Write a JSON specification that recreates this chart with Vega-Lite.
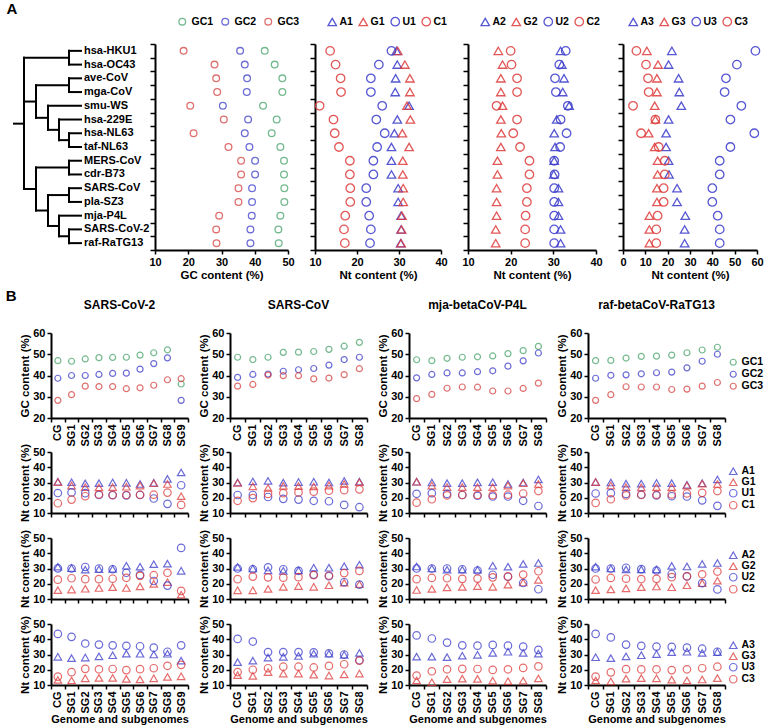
{
"$schema":"https://vega.github.io/schema/vega-lite/v6.json",
"background":"white",
"padding":{"left":5,"top":2,"right":0,"bottom":0},
"datasets":{
"tree":[
{"x":8,"x2":18,"y":5.3,"y2":5.3},
{"x":18,"x2":18,"y":0.5,"y2":10.06},
{"x":18,"x2":63,"y":0.5,"y2":0.5},
{"x":63,"x2":63,"y":0,"y2":1},
{"x":63,"x2":75,"y":0,"y2":0,"sp":"hsa-HKU1"},
{"x":63,"x2":75,"y":1,"y2":1,"sp":"hsa-OC43"},
{"x":18,"x2":30,"y":3.69,"y2":3.69},
{"x":30,"x2":30,"y":2.5,"y2":4.875},
{"x":30,"x2":63,"y":2.5,"y2":2.5},
{"x":63,"x2":63,"y":2,"y2":3},
{"x":63,"x2":75,"y":2,"y2":2,"sp":"ave-CoV"},
{"x":63,"x2":75,"y":3,"y2":3,"sp":"mga-CoV"},
{"x":30,"x2":42,"y":4.875,"y2":4.875},
{"x":42,"x2":42,"y":4,"y2":5.75},
{"x":42,"x2":75,"y":4,"y2":4,"sp":"smu-WS"},
{"x":42,"x2":53,"y":5.75,"y2":5.75},
{"x":53,"x2":53,"y":5,"y2":6.5},
{"x":53,"x2":75,"y":5,"y2":5,"sp":"hsa-229E"},
{"x":53,"x2":63,"y":6.5,"y2":6.5},
{"x":63,"x2":63,"y":6,"y2":7},
{"x":63,"x2":75,"y":6,"y2":6,"sp":"hsa-NL63"},
{"x":63,"x2":75,"y":7,"y2":7,"sp":"taf-NL63"},
{"x":18,"x2":30,"y":10.06,"y2":10.06},
{"x":30,"x2":30,"y":8.5,"y2":11.625},
{"x":30,"x2":63,"y":8.5,"y2":8.5},
{"x":63,"x2":63,"y":8,"y2":9},
{"x":63,"x2":75,"y":8,"y2":8,"sp":"MERS-CoV"},
{"x":63,"x2":75,"y":9,"y2":9,"sp":"cdr-B73"},
{"x":30,"x2":42,"y":11.625,"y2":11.625},
{"x":42,"x2":42,"y":10.5,"y2":12.75},
{"x":42,"x2":63,"y":10.5,"y2":10.5},
{"x":63,"x2":63,"y":10,"y2":11},
{"x":63,"x2":75,"y":10,"y2":10,"sp":"SARS-CoV"},
{"x":63,"x2":75,"y":11,"y2":11,"sp":"pla-SZ3"},
{"x":42,"x2":53,"y":12.75,"y2":12.75},
{"x":53,"x2":53,"y":12,"y2":13.5},
{"x":53,"x2":75,"y":12,"y2":12,"sp":"mja-P4L"},
{"x":53,"x2":63,"y":13.5,"y2":13.5},
{"x":63,"x2":63,"y":13,"y2":14},
{"x":63,"x2":75,"y":13,"y2":13,"sp":"SARS-CoV-2"},
{"x":63,"x2":75,"y":14,"y2":14,"sp":"raf-RaTG13"}
],
"A":[
{"sp":"hsa-HKU1","r":0,"GC1":43.0,"GC2":35.6,"GC3":18.6,"A1":29.4,"G1":29.7,"U1":28.2,"C1":13.6,"A2":31.7,"G2":17.1,"U2":32.9,"C2":20.0,"A3":21.9,"G3":10.7,"U3":59.3,"C3":6.0},
{"sp":"hsa-OC43","r":1,"GC1":46.0,"GC2":37.0,"GC3":27.9,"A1":29.6,"G1":31.4,"U1":25.2,"C1":14.9,"A2":32.0,"G2":18.1,"U2":31.4,"C2":20.2,"A3":20.4,"G3":15.7,"U3":51.0,"C3":10.3},
{"sp":"ave-CoV","r":2,"GC1":48.3,"GC2":37.7,"GC3":28.4,"A1":29.2,"G1":32.6,"U1":23.3,"C1":16.1,"A2":32.5,"G2":17.7,"U2":30.4,"C2":21.5,"A3":24.9,"G3":15.2,"U3":46.1,"C3":11.2},
{"sp":"mga-CoV","r":3,"GC1":48.3,"GC2":37.6,"GC3":28.7,"A1":29.1,"G1":32.6,"U1":23.3,"C1":16.2,"A2":32.2,"G2":17.7,"U2":30.6,"C2":21.5,"A3":25.2,"G3":15.2,"U3":45.5,"C3":11.5},
{"sp":"smu-WS","r":4,"GC1":42.5,"GC2":30.4,"GC3":20.6,"A1":32.4,"G1":31.9,"U1":26.0,"C1":11.1,"A2":33.7,"G2":18.1,"U2":33.4,"C2":16.7,"A3":26.1,"G3":14.2,"U3":53.0,"C3":4.5},
{"sp":"hsa-229E","r":5,"GC1":46.6,"GC2":38.0,"GC3":30.7,"A1":29.6,"G1":32.7,"U1":24.6,"C1":14.4,"A2":30.8,"G2":17.7,"U2":31.7,"C2":21.5,"A3":20.4,"G3":14.5,"U3":48.1,"C3":14.5},
{"sp":"hsa-NL63","r":6,"GC1":45.1,"GC2":37.0,"GC3":21.6,"A1":28.9,"G1":30.8,"U1":26.6,"C1":14.7,"A2":30.2,"G2":17.8,"U2":33.1,"C2":20.6,"A3":19.3,"G3":11.5,"U3":58.8,"C3":8.1},
{"sp":"taf-NL63","r":7,"GC1":47.7,"GC2":38.4,"GC3":32.1,"A1":28.2,"G1":32.4,"U1":24.8,"C1":15.7,"A2":30.4,"G2":17.7,"U2":31.6,"C2":22.2,"A3":19.3,"G3":14.2,"U3":48.1,"C3":16.0},
{"sp":"MERS-CoV","r":8,"GC1":48.8,"GC2":40.1,"GC3":35.9,"A1":28.2,"G1":30.9,"U1":23.9,"C1":18.3,"A2":30.2,"G2":16.9,"U2":30.2,"C2":24.4,"A3":20.4,"G3":15.5,"U3":43.3,"C3":18.7},
{"sp":"cdr-B73","r":9,"GC1":48.8,"GC2":40.1,"GC3":35.9,"A1":28.2,"G1":30.9,"U1":23.9,"C1":18.3,"A2":30.1,"G2":16.9,"U2":30.3,"C2":24.4,"A3":20.6,"G3":15.5,"U3":43.3,"C3":18.7},
{"sp":"SARS-CoV","r":10,"GC1":48.9,"GC2":39.2,"GC3":35.1,"A1":29.8,"G1":31.0,"U1":22.2,"C1":18.4,"A2":31.2,"G2":16.7,"U2":30.2,"C2":23.8,"A3":24.2,"G3":15.2,"U3":40.0,"C3":18.2},
{"sp":"pla-SZ3","r":11,"GC1":48.9,"GC2":39.2,"GC3":35.1,"A1":29.8,"G1":31.0,"U1":22.2,"C1":18.4,"A2":31.2,"G2":16.7,"U2":30.2,"C2":23.8,"A3":24.2,"G3":15.2,"U3":40.0,"C3":18.2},
{"sp":"mja-P4L","r":12,"GC1":47.7,"GC2":39.1,"GC3":29.3,"A1":30.5,"G1":30.7,"U1":22.9,"C1":17.2,"A2":31.2,"G2":16.7,"U2":30.2,"C2":23.5,"A3":27.9,"G3":11.8,"U3":42.4,"C3":15.5},
{"sp":"SARS-CoV-2","r":13,"GC1":47.1,"GC2":38.7,"GC3":28.4,"A1":30.5,"G1":30.6,"U1":23.3,"C1":16.9,"A2":31.7,"G2":16.5,"U2":30.2,"C2":23.4,"A3":27.6,"G3":11.8,"U3":43.3,"C3":14.9},
{"sp":"raf-RaTG13","r":14,"GC1":47.2,"GC2":38.7,"GC3":28.5,"A1":30.4,"G1":30.5,"U1":23.1,"C1":17.1,"A2":31.7,"G2":16.5,"U2":30.2,"C2":23.4,"A3":27.6,"G3":11.8,"U3":43.3,"C3":14.9}
],
"B":[
{"v":"SARS-CoV-2","sg":"CG","GC1":47.0,"GC2":38.7,"GC3":28.3,"A1":30.5,"G1":30.3,"U1":23.1,"C1":16.4,"A2":31.2,"G2":15.8,"U2":30.1,"C2":22.7,"A3":28.5,"G3":13.3,"U3":43.5,"C3":15.5},
{"v":"SARS-CoV-2","sg":"SG1","GC1":46.7,"GC2":40.0,"GC3":31.0,"A1":30.2,"G1":28.0,"U1":23.5,"C1":18.8,"A2":30.3,"G2":16.2,"U2":30.0,"C2":23.6,"A3":27.6,"G3":13.0,"U3":41.6,"C3":18.4},
{"v":"SARS-CoV-2","sg":"SG2","GC1":47.8,"GC2":40.0,"GC3":35.0,"A1":29.4,"G1":27.0,"U1":23.0,"C1":21.0,"A2":29.2,"G2":16.7,"U2":31.0,"C2":23.0,"A3":28.0,"G3":14.4,"U3":37.2,"C3":20.6},
{"v":"SARS-CoV-2","sg":"SG3","GC1":48.4,"GC2":40.5,"GC3":34.8,"A1":29.6,"G1":26.8,"U1":21.8,"C1":22.2,"A2":29.5,"G2":17.2,"U2":30.0,"C2":23.0,"A3":28.8,"G3":14.6,"U3":36.5,"C3":20.3},
{"v":"SARS-CoV-2","sg":"SG4","GC1":48.5,"GC2":41.0,"GC3":34.8,"A1":30.0,"G1":27.0,"U1":21.7,"C1":21.8,"A2":29.7,"G2":17.8,"U2":29.5,"C2":23.3,"A3":29.5,"G3":14.6,"U3":36.0,"C3":20.5},
{"v":"SARS-CoV-2","sg":"SG5","GC1":48.6,"GC2":41.1,"GC3":33.8,"A1":29.8,"G1":27.2,"U1":21.6,"C1":21.8,"A2":31.8,"G2":17.2,"U2":27.2,"C2":23.9,"A3":30.6,"G3":14.0,"U3":35.7,"C3":19.8},
{"v":"SARS-CoV-2","sg":"SG6","GC1":49.6,"GC2":43.0,"GC3":34.2,"A1":29.0,"G1":28.0,"U1":21.8,"C1":22.0,"A2":31.2,"G2":18.3,"U2":25.8,"C2":25.2,"A3":30.5,"G3":13.7,"U3":35.4,"C3":20.4},
{"v":"SARS-CoV-2","sg":"SG7","GC1":50.7,"GC2":45.6,"GC3":35.4,"A1":29.8,"G1":29.5,"U1":19.5,"C1":22.0,"A2":32.8,"G2":19.9,"U2":21.8,"C2":25.6,"A3":30.0,"G3":14.4,"U3":34.5,"C3":21.0},
{"v":"SARS-CoV-2","sg":"SG8","GC1":52.1,"GC2":48.3,"GC3":38.0,"A1":32.4,"G1":29.0,"U1":16.0,"C1":23.4,"A2":33.2,"G2":21.0,"U2":18.8,"C2":27.2,"A3":30.5,"G3":15.3,"U3":31.8,"C3":22.6},
{"v":"SARS-CoV-2","sg":"SG9","GC1":36.0,"GC2":28.3,"GC3":38.5,"A1":36.6,"G1":21.0,"U1":28.2,"C1":15.3,"A2":28.5,"G2":12.8,"U2":43.5,"C2":15.3,"A3":26.0,"G3":15.7,"U3":36.0,"C3":23.2},
{"v":"SARS-CoV","sg":"CG","GC1":48.6,"GC2":39.1,"GC3":35.0,"A1":30.0,"G1":29.8,"U1":21.8,"C1":18.0,"A2":31.0,"G2":15.7,"U2":30.0,"C2":23.0,"A3":25.0,"G3":16.5,"U3":40.2,"C3":18.5},
{"v":"SARS-CoV","sg":"SG1","GC1":47.5,"GC2":40.5,"GC3":35.8,"A1":30.7,"G1":27.5,"U1":21.8,"C1":19.8,"A2":30.0,"G2":15.7,"U2":29.5,"C2":24.7,"A3":26.0,"G3":16.0,"U3":38.5,"C3":20.0},
{"v":"SARS-CoV","sg":"SG2","GC1":48.6,"GC2":40.7,"GC3":40.2,"A1":31.1,"G1":26.4,"U1":20.5,"C1":22.5,"A2":28.8,"G2":16.6,"U2":30.8,"C2":24.2,"A3":28.0,"G3":18.5,"U3":31.6,"C3":21.0},
{"v":"SARS-CoV","sg":"SG3","GC1":50.9,"GC2":42.0,"GC3":39.9,"A1":29.9,"G1":27.8,"U1":19.3,"C1":23.0,"A2":28.5,"G2":18.0,"U2":29.5,"C2":24.0,"A3":28.5,"G3":17.5,"U3":31.6,"C3":22.0},
{"v":"SARS-CoV","sg":"SG4","GC1":51.0,"GC2":42.7,"GC3":39.9,"A1":30.3,"G1":27.6,"U1":18.8,"C1":23.5,"A2":28.8,"G2":18.5,"U2":28.5,"C2":24.3,"A3":29.0,"G3":17.5,"U3":31.6,"C3":22.0},
{"v":"SARS-CoV","sg":"SG5","GC1":51.3,"GC2":43.3,"GC3":38.4,"A1":30.5,"G1":27.4,"U1":18.0,"C1":24.0,"A2":30.5,"G2":18.0,"U2":26.0,"C2":25.6,"A3":30.5,"G3":16.8,"U3":31.4,"C3":21.5},
{"v":"SARS-CoV","sg":"SG6","GC1":52.3,"GC2":44.9,"GC3":38.8,"A1":30.0,"G1":28.0,"U1":17.7,"C1":24.6,"A2":30.5,"G2":19.0,"U2":25.0,"C2":25.4,"A3":30.5,"G3":16.2,"U3":30.8,"C3":22.5},
{"v":"SARS-CoV","sg":"SG7","GC1":53.8,"GC2":47.5,"GC3":40.4,"A1":31.0,"G1":29.0,"U1":15.3,"C1":25.0,"A2":31.5,"G2":20.7,"U2":21.0,"C2":27.0,"A3":29.8,"G3":17.0,"U3":30.0,"C3":23.6},
{"v":"SARS-CoV","sg":"SG8","GC1":55.6,"GC2":48.6,"GC3":43.2,"A1":30.6,"G1":30.2,"U1":13.8,"C1":25.5,"A2":32.5,"G2":19.7,"U2":19.4,"C2":28.4,"A3":31.0,"G3":17.5,"U3":26.2,"C3":26.0},
{"v":"mja","sg":"CG","GC1":47.4,"GC2":38.9,"GC3":29.1,"A1":30.5,"G1":30.5,"U1":22.6,"C1":16.8,"A2":31.3,"G2":15.9,"U2":30.0,"C2":23.0,"A3":28.6,"G3":13.0,"U3":42.5,"C3":16.2},
{"v":"mja","sg":"SG1","GC1":47.0,"GC2":40.5,"GC3":31.1,"A1":30.0,"G1":28.0,"U1":23.0,"C1":19.0,"A2":30.0,"G2":16.6,"U2":30.0,"C2":23.8,"A3":28.6,"G3":11.8,"U3":40.5,"C3":19.0},
{"v":"mja","sg":"SG2","GC1":48.1,"GC2":41.2,"GC3":34.0,"A1":29.6,"G1":27.0,"U1":22.5,"C1":21.5,"A2":29.2,"G2":17.6,"U2":30.0,"C2":23.6,"A3":28.3,"G3":13.8,"U3":37.8,"C3":20.3},
{"v":"mja","sg":"SG3","GC1":48.6,"GC2":41.2,"GC3":34.6,"A1":29.6,"G1":27.0,"U1":21.8,"C1":21.8,"A2":29.2,"G2":17.9,"U2":29.5,"C2":23.2,"A3":29.2,"G3":14.2,"U3":36.0,"C3":20.6},
{"v":"mja","sg":"SG4","GC1":48.8,"GC2":41.8,"GC3":34.5,"A1":30.1,"G1":26.9,"U1":21.3,"C1":21.8,"A2":29.2,"G2":18.5,"U2":28.7,"C2":23.4,"A3":29.8,"G3":14.0,"U3":35.8,"C3":20.5},
{"v":"mja","sg":"SG5","GC1":49.2,"GC2":42.2,"GC3":32.7,"A1":30.2,"G1":27.0,"U1":20.8,"C1":21.7,"A2":31.8,"G2":18.0,"U2":25.9,"C2":24.2,"A3":31.0,"G3":12.9,"U3":36.3,"C3":19.9},
{"v":"mja","sg":"SG6","GC1":50.3,"GC2":44.4,"GC3":32.7,"A1":29.0,"G1":28.0,"U1":20.8,"C1":22.0,"A2":31.2,"G2":19.4,"U2":24.6,"C2":24.8,"A3":31.8,"G3":12.5,"U3":35.8,"C3":20.3},
{"v":"mja","sg":"SG7","GC1":51.7,"GC2":46.9,"GC3":33.9,"A1":30.0,"G1":29.5,"U1":18.0,"C1":22.8,"A2":33.0,"G2":20.8,"U2":20.5,"C2":26.0,"A3":31.0,"G3":12.8,"U3":35.2,"C3":21.2},
{"v":"mja","sg":"SG8","GC1":53.7,"GC2":50.6,"GC3":36.4,"A1":32.0,"G1":29.0,"U1":14.6,"C1":24.4,"A2":33.6,"G2":22.5,"U2":16.4,"C2":28.2,"A3":30.6,"G3":14.3,"U3":33.0,"C3":22.2},
{"v":"raf","sg":"CG","GC1":47.0,"GC2":38.7,"GC3":28.3,"A1":30.3,"G1":30.3,"U1":22.8,"C1":16.6,"A2":31.2,"G2":15.8,"U2":30.0,"C2":22.8,"A3":28.2,"G3":13.0,"U3":43.5,"C3":15.5},
{"v":"raf","sg":"SG1","GC1":47.1,"GC2":40.1,"GC3":31.0,"A1":30.0,"G1":28.0,"U1":23.0,"C1":19.0,"A2":30.0,"G2":16.3,"U2":30.0,"C2":23.8,"A3":27.6,"G3":12.3,"U3":41.2,"C3":18.3},
{"v":"raf","sg":"SG2","GC1":48.2,"GC2":40.3,"GC3":34.7,"A1":29.3,"G1":27.0,"U1":22.5,"C1":21.5,"A2":29.4,"G2":17.0,"U2":30.5,"C2":23.3,"A3":28.8,"G3":14.2,"U3":36.5,"C3":20.4},
{"v":"raf","sg":"SG3","GC1":49.0,"GC2":40.8,"GC3":34.6,"A1":29.3,"G1":26.8,"U1":22.0,"C1":21.8,"A2":29.4,"G2":17.8,"U2":29.6,"C2":23.1,"A3":29.5,"G3":14.5,"U3":35.7,"C3":20.2},
{"v":"raf","sg":"SG4","GC1":49.1,"GC2":41.3,"GC3":34.6,"A1":29.7,"G1":26.9,"U1":21.5,"C1":22.0,"A2":29.4,"G2":18.2,"U2":28.7,"C2":23.2,"A3":30.3,"G3":14.4,"U3":35.2,"C3":20.3},
{"v":"raf","sg":"SG5","GC1":49.6,"GC2":41.6,"GC3":33.4,"A1":29.6,"G1":27.0,"U1":21.0,"C1":22.2,"A2":31.7,"G2":17.7,"U2":26.4,"C2":24.3,"A3":31.5,"G3":13.5,"U3":35.0,"C3":19.8},
{"v":"raf","sg":"SG6","GC1":50.7,"GC2":43.6,"GC3":33.6,"A1":28.5,"G1":28.0,"U1":20.8,"C1":22.8,"A2":31.3,"G2":19.0,"U2":24.8,"C2":24.9,"A3":31.8,"G3":13.0,"U3":34.5,"C3":20.3},
{"v":"raf","sg":"SG7","GC1":52.0,"GC2":46.7,"GC3":35.0,"A1":29.5,"G1":29.3,"U1":18.3,"C1":23.2,"A2":33.0,"G2":20.4,"U2":20.4,"C2":26.2,"A3":31.0,"G3":13.6,"U3":33.8,"C3":21.0},
{"v":"raf","sg":"SG8","GC1":53.3,"GC2":50.0,"GC3":36.7,"A1":32.0,"G1":29.0,"U1":14.7,"C1":24.4,"A2":33.6,"G2":22.0,"U2":16.3,"C2":28.0,"A3":31.6,"G3":14.5,"U3":31.8,"C3":22.0}
]
},
"columns":1,
"align":"none",
"spacing":8,
"resolve":{"scale":{"color":"independent","shape":"independent","size":"independent"},"legend":{"color":"independent","shape":"independent","size":"independent"}},
"concat":[
{
"title":{"text":"A","anchor":"start","fontSize":15,"offset":-16,"baseline":"bottom","dx":-6},
"bounds":"flush",
"spacing":27,
"resolve":{"scale":{"color":"independent","shape":"independent","size":"independent"},"legend":{"color":"independent","shape":"independent","size":"independent"}},
"hconcat":[
{"width":77,"height":206,
"layer":[
{"data":{"name":"tree"},"mark":{"type":"rule","strokeWidth":2,"color":"black","strokeCap":"square"},
"encoding":{"x":{"field":"x","type":"quantitative","scale":{"domain":[45,122],"nice":false,"zero":false},"axis":null},"x2":{"field":"x2"},"y":{"field":"y","type":"quantitative","scale":{"domain":[-0.5,14.5],"reverse":true,"nice":false,"zero":false},"axis":null},"y2":{"field":"y2"}}},
{"data":{"name":"tree"},"transform":[{"filter":"isValid(datum.sp)"}],"mark":{"type":"text","align":"left","baseline":"middle","fontWeight":"bold","fontSize":11,"dx":3,"color":"black"},
"encoding":{"x":{"field":"x2","type":"quantitative"},"y":{"field":"y","type":"quantitative"},"text":{"field":"sp"}}}
]},
{"width":133,"height":206,"data":{"name":"A"},
"transform":[{"fold":["GC1","GC2","GC3"],"as":["k","val"]}],
"mark":{"type":"point","filled":false,"strokeWidth":1.3,"size":45},
"encoding":{
"x":{"field":"val","type":"quantitative","scale":{"domain":[10,50],"nice":false,"zero":false},"axis":{"values":[10,20,30,40,50],"title":"GC content (%)"}},
"y":{"field":"r","type":"quantitative","scale":{"domain":[-0.5,14.5],"reverse":true,"nice":false,"zero":false},"axis":{"values":[-0.5,0.5,1.5,2.5,3.5,4.5,5.5,6.5,7.5,8.5,9.5,10.5,11.5,12.5,13.5,14.5],"labels":false,"title":null,"tickSize":5}},
"color":{"field":"k","type":"nominal","scale":{"domain":["GC1","GC2","GC3"],"range":["#3b9c60","#2f2fc4","#d23434"]},"legend":{"title":null,"orient":"none","legendX":22,"legendY":-28,"direction":"vertical","columns":3,"labelOffset":4,"columnPadding":5,"symbolSize":45,"symbolStrokeWidth":1.3,"padding":0}}}},
{"width":126,"height":206,"data":{"name":"A"},
"transform":[{"fold":["A1","G1","U1","C1"],"as":["k","val"]}],
"mark":{"type":"point","filled":false,"strokeWidth":1.3,"opacity":0.85},
"encoding":{
"x":{"field":"val","type":"quantitative","scale":{"domain":[10,40],"nice":false,"zero":false},"axis":{"values":[10,20,30,40],"title":"Nt content (%)"}},
"y":{"field":"r","type":"quantitative","scale":{"domain":[-0.5,14.5],"reverse":true,"nice":false,"zero":false},"axis":{"values":[-0.5,0.5,1.5,2.5,3.5,4.5,5.5,6.5,7.5,8.5,9.5,10.5,11.5,12.5,13.5,14.5],"labels":false,"title":null,"tickSize":5}},
"color":{"field":"k","type":"nominal","scale":{"domain":["A1","G1","U1","C1"],"range":["#3a3acb","#de3b3b","#3a3acb","#de3b3b"]},"legend":{"title":null,"orient":"none","legendX":12,"legendY":-28,"direction":"vertical","columns":4,"labelOffset":2,"columnPadding":3,"symbolStrokeWidth":1.3,"padding":0}},
"shape":{"field":"k","type":"nominal","scale":{"domain":["A1","G1","U1","C1"],"range":["triangle-up","triangle-up","circle","circle"]},"legend":{"title":null,"orient":"none","legendX":12,"legendY":-28,"direction":"vertical","columns":4,"labelOffset":2,"columnPadding":3,"symbolStrokeWidth":1.3,"padding":0}},
"size":{"field":"k","type":"nominal","scale":{"domain":["A1","G1","U1","C1"],"range":[72,72,45,45]},"legend":{"title":null,"orient":"none","legendX":12,"legendY":-28,"direction":"vertical","columns":4,"labelOffset":2,"columnPadding":3,"symbolStrokeWidth":1.3,"padding":0}}}},
{"width":128,"height":206,"data":{"name":"A"},
"transform":[{"fold":["A2","G2","U2","C2"],"as":["k","val"]}],
"mark":{"type":"point","filled":false,"strokeWidth":1.3,"opacity":0.85},
"encoding":{
"x":{"field":"val","type":"quantitative","scale":{"domain":[10,40],"nice":false,"zero":false},"axis":{"values":[10,20,30,40],"title":"Nt content (%)"}},
"y":{"field":"r","type":"quantitative","scale":{"domain":[-0.5,14.5],"reverse":true,"nice":false,"zero":false},"axis":{"values":[-0.5,0.5,1.5,2.5,3.5,4.5,5.5,6.5,7.5,8.5,9.5,10.5,11.5,12.5,13.5,14.5],"labels":false,"title":null,"tickSize":5}},
"color":{"field":"k","type":"nominal","scale":{"domain":["A2","G2","U2","C2"],"range":["#3a3acb","#de3b3b","#3a3acb","#de3b3b"]},"legend":{"title":null,"orient":"none","legendX":12,"legendY":-28,"direction":"vertical","columns":4,"labelOffset":2,"columnPadding":3,"symbolStrokeWidth":1.3,"padding":0}},
"shape":{"field":"k","type":"nominal","scale":{"domain":["A2","G2","U2","C2"],"range":["triangle-up","triangle-up","circle","circle"]},"legend":{"title":null,"orient":"none","legendX":12,"legendY":-28,"direction":"vertical","columns":4,"labelOffset":2,"columnPadding":3,"symbolStrokeWidth":1.3,"padding":0}},
"size":{"field":"k","type":"nominal","scale":{"domain":["A2","G2","U2","C2"],"range":[72,72,45,45]},"legend":{"title":null,"orient":"none","legendX":12,"legendY":-28,"direction":"vertical","columns":4,"labelOffset":2,"columnPadding":3,"symbolStrokeWidth":1.3,"padding":0}}}},
{"width":134,"height":206,"data":{"name":"A"},
"transform":[{"fold":["A3","G3","U3","C3"],"as":["k","val"]}],
"mark":{"type":"point","filled":false,"strokeWidth":1.3,"opacity":0.85},
"encoding":{
"x":{"field":"val","type":"quantitative","scale":{"domain":[0,60],"nice":false,"zero":false},"axis":{"values":[0,10,20,30,40,50,60],"title":"Nt content (%)"}},
"y":{"field":"r","type":"quantitative","scale":{"domain":[-0.5,14.5],"reverse":true,"nice":false,"zero":false},"axis":{"values":[-0.5,0.5,1.5,2.5,3.5,4.5,5.5,6.5,7.5,8.5,9.5,10.5,11.5,12.5,13.5,14.5],"labels":false,"title":null,"tickSize":5}},
"color":{"field":"k","type":"nominal","scale":{"domain":["A3","G3","U3","C3"],"range":["#3a3acb","#de3b3b","#3a3acb","#de3b3b"]},"legend":{"title":null,"orient":"none","legendX":5,"legendY":-28,"direction":"vertical","columns":4,"labelOffset":2,"columnPadding":3,"symbolStrokeWidth":1.3,"padding":0}},
"shape":{"field":"k","type":"nominal","scale":{"domain":["A3","G3","U3","C3"],"range":["triangle-up","triangle-up","circle","circle"]},"legend":{"title":null,"orient":"none","legendX":5,"legendY":-28,"direction":"vertical","columns":4,"labelOffset":2,"columnPadding":3,"symbolStrokeWidth":1.3,"padding":0}},
"size":{"field":"k","type":"nominal","scale":{"domain":["A3","G3","U3","C3"],"range":[72,72,45,45]},"legend":{"title":null,"orient":"none","legendX":5,"legendY":-28,"direction":"vertical","columns":4,"labelOffset":2,"columnPadding":3,"symbolStrokeWidth":1.3,"padding":0}}}}
]
},
{
"title":{"text":"B","anchor":"start","fontSize":15,"offset":-20,"baseline":"bottom","dx":-14},
"columns":4,
"bounds":"flush",
"spacing":{"row":25,"column":42},
"resolve":{"scale":{"color":"independent","shape":"independent","size":"independent"},"legend":{"color":"independent","shape":"independent","size":"independent"}},
"concat":[
{"width":137,"height":94,"title":{"text":"SARS-CoV-2","offset":15,"dy":12,"baseline":"bottom","fontSize":12,"frame":"group","anchor":"middle"},"data":{"name":"B"},
"transform":[{"filter":"datum.v == 'SARS-CoV-2'"},{"fold":["GC1","GC2","GC3"],"as":["k","val"]}],
"mark":{"type":"point","filled":false,"strokeWidth":1.2,"size":36},
"encoding":{"x":{"field":"sg","type":"nominal","sort":null,"scale":{"type":"band","paddingInner":0,"paddingOuter":0},"axis":{"title":null,"labelAngle":270,"tickBand":"extent","offset":-9}},
"y":{"field":"val","type":"quantitative","scale":{"domain":[20,60],"range":[85,0],"nice":false,"zero":false},"axis":{"values":[20,30,40,50,60],"title":"GC content (%)"}},
"color":{"field":"k","type":"nominal","scale":{"domain":["GC1","GC2","GC3"],"range":["#3b9c60","#2f2fc4","#d23434"]},"legend":null}}},
{"width":137,"height":94,"title":{"text":"SARS-CoV","offset":15,"dy":12,"baseline":"bottom","fontSize":12,"frame":"group","anchor":"middle"},"data":{"name":"B"},
"transform":[{"filter":"datum.v == 'SARS-CoV'"},{"fold":["GC1","GC2","GC3"],"as":["k","val"]}],
"mark":{"type":"point","filled":false,"strokeWidth":1.2,"size":36},
"encoding":{"x":{"field":"sg","type":"nominal","sort":null,"scale":{"type":"band","paddingInner":0,"paddingOuter":0},"axis":{"title":null,"labelAngle":270,"tickBand":"extent","offset":-9}},
"y":{"field":"val","type":"quantitative","scale":{"domain":[20,60],"range":[85,0],"nice":false,"zero":false},"axis":{"values":[20,30,40,50,60],"title":"GC content (%)"}},
"color":{"field":"k","type":"nominal","scale":{"domain":["GC1","GC2","GC3"],"range":["#3b9c60","#2f2fc4","#d23434"]},"legend":null}}},
{"width":137,"height":94,"title":{"text":"mja-betaCoV-P4L","offset":15,"dy":12,"baseline":"bottom","fontSize":12,"frame":"group","anchor":"middle"},"data":{"name":"B"},
"transform":[{"filter":"datum.v == 'mja'"},{"fold":["GC1","GC2","GC3"],"as":["k","val"]}],
"mark":{"type":"point","filled":false,"strokeWidth":1.2,"size":36},
"encoding":{"x":{"field":"sg","type":"nominal","sort":null,"scale":{"type":"band","paddingInner":0,"paddingOuter":0},"axis":{"title":null,"labelAngle":270,"tickBand":"extent","offset":-9}},
"y":{"field":"val","type":"quantitative","scale":{"domain":[20,60],"range":[85,0],"nice":false,"zero":false},"axis":{"values":[20,30,40,50,60],"title":"GC content (%)"}},
"color":{"field":"k","type":"nominal","scale":{"domain":["GC1","GC2","GC3"],"range":["#3b9c60","#2f2fc4","#d23434"]},"legend":null}}},
{"width":137,"height":94,"title":{"text":"raf-betaCoV-RaTG13","offset":15,"dy":12,"baseline":"bottom","fontSize":12,"frame":"group","anchor":"middle"},"data":{"name":"B"},
"transform":[{"filter":"datum.v == 'raf'"},{"fold":["GC1","GC2","GC3"],"as":["k","val"]}],
"mark":{"type":"point","filled":false,"strokeWidth":1.2,"size":36},
"encoding":{"x":{"field":"sg","type":"nominal","sort":null,"scale":{"type":"band","paddingInner":0,"paddingOuter":0},"axis":{"title":null,"labelAngle":270,"tickBand":"extent","offset":-9}},
"y":{"field":"val","type":"quantitative","scale":{"domain":[20,60],"range":[85,0],"nice":false,"zero":false},"axis":{"values":[20,30,40,50,60],"title":"GC content (%)"}},
"color":{"field":"k","type":"nominal","scale":{"domain":["GC1","GC2","GC3"],"range":["#3b9c60","#2f2fc4","#d23434"]},"legend":{"title":null,"orient":"none","legendX":140,"legendY":24,"labelOffset":3,"rowPadding":0,"symbolSize":36,"symbolStrokeWidth":1.2,"padding":0}}}},

{"width":137,"height":61,"data":{"name":"B"},
"transform":[{"filter":"datum.v == 'SARS-CoV-2'"},{"fold":["A1","G1","U1","C1"],"as":["k","val"]}],
"mark":{"type":"point","filled":false,"strokeWidth":1.2,"opacity":0.75},
"encoding":{"x":{"field":"sg","type":"nominal","sort":null,"scale":{"type":"band","paddingInner":0,"paddingOuter":0},"axis":{"title":null,"labels":false,"tickBand":"extent"}},
"y":{"field":"val","type":"quantitative","scale":{"domain":[10,50],"nice":false,"zero":false},"axis":{"values":[10,20,30,40,50],"title":"Nt content (%)"}},
"color":{"field":"k","type":"nominal","scale":{"domain":["A1","G1","U1","C1"],"range":["#3a3acb","#de3b3b","#3a3acb","#de3b3b"]},"legend":null},
"shape":{"field":"k","type":"nominal","scale":{"domain":["A1","G1","U1","C1"],"range":["triangle-up","triangle-up","circle","circle"]},"legend":null},
"size":{"field":"k","type":"nominal","scale":{"domain":["A1","G1","U1","C1"],"range":[56,56,36,36]},"legend":null}}},
{"width":137,"height":61,"data":{"name":"B"},
"transform":[{"filter":"datum.v == 'SARS-CoV'"},{"fold":["A1","G1","U1","C1"],"as":["k","val"]}],
"mark":{"type":"point","filled":false,"strokeWidth":1.2,"opacity":0.75},
"encoding":{"x":{"field":"sg","type":"nominal","sort":null,"scale":{"type":"band","paddingInner":0,"paddingOuter":0},"axis":{"title":null,"labels":false,"tickBand":"extent"}},
"y":{"field":"val","type":"quantitative","scale":{"domain":[10,50],"nice":false,"zero":false},"axis":{"values":[10,20,30,40,50],"title":"Nt content (%)"}},
"color":{"field":"k","type":"nominal","scale":{"domain":["A1","G1","U1","C1"],"range":["#3a3acb","#de3b3b","#3a3acb","#de3b3b"]},"legend":null},
"shape":{"field":"k","type":"nominal","scale":{"domain":["A1","G1","U1","C1"],"range":["triangle-up","triangle-up","circle","circle"]},"legend":null},
"size":{"field":"k","type":"nominal","scale":{"domain":["A1","G1","U1","C1"],"range":[56,56,36,36]},"legend":null}}},
{"width":137,"height":61,"data":{"name":"B"},
"transform":[{"filter":"datum.v == 'mja'"},{"fold":["A1","G1","U1","C1"],"as":["k","val"]}],
"mark":{"type":"point","filled":false,"strokeWidth":1.2,"opacity":0.75},
"encoding":{"x":{"field":"sg","type":"nominal","sort":null,"scale":{"type":"band","paddingInner":0,"paddingOuter":0},"axis":{"title":null,"labels":false,"tickBand":"extent"}},
"y":{"field":"val","type":"quantitative","scale":{"domain":[10,50],"nice":false,"zero":false},"axis":{"values":[10,20,30,40,50],"title":"Nt content (%)"}},
"color":{"field":"k","type":"nominal","scale":{"domain":["A1","G1","U1","C1"],"range":["#3a3acb","#de3b3b","#3a3acb","#de3b3b"]},"legend":null},
"shape":{"field":"k","type":"nominal","scale":{"domain":["A1","G1","U1","C1"],"range":["triangle-up","triangle-up","circle","circle"]},"legend":null},
"size":{"field":"k","type":"nominal","scale":{"domain":["A1","G1","U1","C1"],"range":[56,56,36,36]},"legend":null}}},
{"width":137,"height":61,"data":{"name":"B"},
"transform":[{"filter":"datum.v == 'raf'"},{"fold":["A1","G1","U1","C1"],"as":["k","val"]}],
"mark":{"type":"point","filled":false,"strokeWidth":1.2,"opacity":0.75},
"encoding":{"x":{"field":"sg","type":"nominal","sort":null,"scale":{"type":"band","paddingInner":0,"paddingOuter":0},"axis":{"title":null,"labels":false,"tickBand":"extent"}},
"y":{"field":"val","type":"quantitative","scale":{"domain":[10,50],"nice":false,"zero":false},"axis":{"values":[10,20,30,40,50],"title":"Nt content (%)"}},
"color":{"field":"k","type":"nominal","scale":{"domain":["A1","G1","U1","C1"],"range":["#3a3acb","#de3b3b","#3a3acb","#de3b3b"]},"legend":{"title":null,"orient":"none","legendX":140,"legendY":14,"labelOffset":3,"rowPadding":-1.5,"symbolStrokeWidth":1.2,"padding":0}},
"shape":{"field":"k","type":"nominal","scale":{"domain":["A1","G1","U1","C1"],"range":["triangle-up","triangle-up","circle","circle"]},"legend":{"title":null,"orient":"none","legendX":140,"legendY":14,"labelOffset":3,"rowPadding":-1.5,"symbolStrokeWidth":1.2,"padding":0}},
"size":{"field":"k","type":"nominal","scale":{"domain":["A1","G1","U1","C1"],"range":[56,56,36,36]},"legend":{"title":null,"orient":"none","legendX":140,"legendY":14,"labelOffset":3,"rowPadding":-1.5,"symbolStrokeWidth":1.2,"padding":0}}}},

{"width":137,"height":61,"data":{"name":"B"},
"transform":[{"filter":"datum.v == 'SARS-CoV-2'"},{"fold":["A2","G2","U2","C2"],"as":["k","val"]}],
"mark":{"type":"point","filled":false,"strokeWidth":1.2,"opacity":0.75},
"encoding":{"x":{"field":"sg","type":"nominal","sort":null,"scale":{"type":"band","paddingInner":0,"paddingOuter":0},"axis":{"title":null,"labels":false,"tickBand":"extent"}},
"y":{"field":"val","type":"quantitative","scale":{"domain":[10,50],"nice":false,"zero":false},"axis":{"values":[10,20,30,40,50],"title":"Nt content (%)"}},
"color":{"field":"k","type":"nominal","scale":{"domain":["A2","G2","U2","C2"],"range":["#3a3acb","#de3b3b","#3a3acb","#de3b3b"]},"legend":null},
"shape":{"field":"k","type":"nominal","scale":{"domain":["A2","G2","U2","C2"],"range":["triangle-up","triangle-up","circle","circle"]},"legend":null},
"size":{"field":"k","type":"nominal","scale":{"domain":["A2","G2","U2","C2"],"range":[56,56,36,36]},"legend":null}}},
{"width":137,"height":61,"data":{"name":"B"},
"transform":[{"filter":"datum.v == 'SARS-CoV'"},{"fold":["A2","G2","U2","C2"],"as":["k","val"]}],
"mark":{"type":"point","filled":false,"strokeWidth":1.2,"opacity":0.75},
"encoding":{"x":{"field":"sg","type":"nominal","sort":null,"scale":{"type":"band","paddingInner":0,"paddingOuter":0},"axis":{"title":null,"labels":false,"tickBand":"extent"}},
"y":{"field":"val","type":"quantitative","scale":{"domain":[10,50],"nice":false,"zero":false},"axis":{"values":[10,20,30,40,50],"title":"Nt content (%)"}},
"color":{"field":"k","type":"nominal","scale":{"domain":["A2","G2","U2","C2"],"range":["#3a3acb","#de3b3b","#3a3acb","#de3b3b"]},"legend":null},
"shape":{"field":"k","type":"nominal","scale":{"domain":["A2","G2","U2","C2"],"range":["triangle-up","triangle-up","circle","circle"]},"legend":null},
"size":{"field":"k","type":"nominal","scale":{"domain":["A2","G2","U2","C2"],"range":[56,56,36,36]},"legend":null}}},
{"width":137,"height":61,"data":{"name":"B"},
"transform":[{"filter":"datum.v == 'mja'"},{"fold":["A2","G2","U2","C2"],"as":["k","val"]}],
"mark":{"type":"point","filled":false,"strokeWidth":1.2,"opacity":0.75},
"encoding":{"x":{"field":"sg","type":"nominal","sort":null,"scale":{"type":"band","paddingInner":0,"paddingOuter":0},"axis":{"title":null,"labels":false,"tickBand":"extent"}},
"y":{"field":"val","type":"quantitative","scale":{"domain":[10,50],"nice":false,"zero":false},"axis":{"values":[10,20,30,40,50],"title":"Nt content (%)"}},
"color":{"field":"k","type":"nominal","scale":{"domain":["A2","G2","U2","C2"],"range":["#3a3acb","#de3b3b","#3a3acb","#de3b3b"]},"legend":null},
"shape":{"field":"k","type":"nominal","scale":{"domain":["A2","G2","U2","C2"],"range":["triangle-up","triangle-up","circle","circle"]},"legend":null},
"size":{"field":"k","type":"nominal","scale":{"domain":["A2","G2","U2","C2"],"range":[56,56,36,36]},"legend":null}}},
{"width":137,"height":61,"data":{"name":"B"},
"transform":[{"filter":"datum.v == 'raf'"},{"fold":["A2","G2","U2","C2"],"as":["k","val"]}],
"mark":{"type":"point","filled":false,"strokeWidth":1.2,"opacity":0.75},
"encoding":{"x":{"field":"sg","type":"nominal","sort":null,"scale":{"type":"band","paddingInner":0,"paddingOuter":0},"axis":{"title":null,"labels":false,"tickBand":"extent"}},
"y":{"field":"val","type":"quantitative","scale":{"domain":[10,50],"nice":false,"zero":false},"axis":{"values":[10,20,30,40,50],"title":"Nt content (%)"}},
"color":{"field":"k","type":"nominal","scale":{"domain":["A2","G2","U2","C2"],"range":["#3a3acb","#de3b3b","#3a3acb","#de3b3b"]},"legend":{"title":null,"orient":"none","legendX":140,"legendY":12,"labelOffset":3,"rowPadding":-1.5,"symbolStrokeWidth":1.2,"padding":0}},
"shape":{"field":"k","type":"nominal","scale":{"domain":["A2","G2","U2","C2"],"range":["triangle-up","triangle-up","circle","circle"]},"legend":{"title":null,"orient":"none","legendX":140,"legendY":12,"labelOffset":3,"rowPadding":-1.5,"symbolStrokeWidth":1.2,"padding":0}},
"size":{"field":"k","type":"nominal","scale":{"domain":["A2","G2","U2","C2"],"range":[56,56,36,36]},"legend":{"title":null,"orient":"none","legendX":140,"legendY":12,"labelOffset":3,"rowPadding":-1.5,"symbolStrokeWidth":1.2,"padding":0}}}},

{"width":137,"height":61,"data":{"name":"B"},
"transform":[{"filter":"datum.v == 'SARS-CoV-2'"},{"fold":["A3","G3","U3","C3"],"as":["k","val"]}],
"mark":{"type":"point","filled":false,"strokeWidth":1.2,"opacity":0.75},
"encoding":{"x":{"field":"sg","type":"nominal","sort":null,"scale":{"type":"band","paddingInner":0,"paddingOuter":0},"axis":{"title":"Genome and subgenomes","labelAngle":270,"tickBand":"extent","titlePadding":0,"titleFontSize":11}},
"y":{"field":"val","type":"quantitative","scale":{"domain":[10,50],"nice":false,"zero":false},"axis":{"values":[10,20,30,40,50],"title":"Nt content (%)"}},
"color":{"field":"k","type":"nominal","scale":{"domain":["A3","G3","U3","C3"],"range":["#3a3acb","#de3b3b","#3a3acb","#de3b3b"]},"legend":null},
"shape":{"field":"k","type":"nominal","scale":{"domain":["A3","G3","U3","C3"],"range":["triangle-up","triangle-up","circle","circle"]},"legend":null},
"size":{"field":"k","type":"nominal","scale":{"domain":["A3","G3","U3","C3"],"range":[56,56,36,36]},"legend":null}}},
{"width":137,"height":61,"data":{"name":"B"},
"transform":[{"filter":"datum.v == 'SARS-CoV'"},{"fold":["A3","G3","U3","C3"],"as":["k","val"]}],
"mark":{"type":"point","filled":false,"strokeWidth":1.2,"opacity":0.75},
"encoding":{"x":{"field":"sg","type":"nominal","sort":null,"scale":{"type":"band","paddingInner":0,"paddingOuter":0},"axis":{"title":"Genome and subgenomes","labelAngle":270,"tickBand":"extent","titlePadding":0,"titleFontSize":11}},
"y":{"field":"val","type":"quantitative","scale":{"domain":[10,50],"nice":false,"zero":false},"axis":{"values":[10,20,30,40,50],"title":"Nt content (%)"}},
"color":{"field":"k","type":"nominal","scale":{"domain":["A3","G3","U3","C3"],"range":["#3a3acb","#de3b3b","#3a3acb","#de3b3b"]},"legend":null},
"shape":{"field":"k","type":"nominal","scale":{"domain":["A3","G3","U3","C3"],"range":["triangle-up","triangle-up","circle","circle"]},"legend":null},
"size":{"field":"k","type":"nominal","scale":{"domain":["A3","G3","U3","C3"],"range":[56,56,36,36]},"legend":null}}},
{"width":137,"height":61,"data":{"name":"B"},
"transform":[{"filter":"datum.v == 'mja'"},{"fold":["A3","G3","U3","C3"],"as":["k","val"]}],
"mark":{"type":"point","filled":false,"strokeWidth":1.2,"opacity":0.75},
"encoding":{"x":{"field":"sg","type":"nominal","sort":null,"scale":{"type":"band","paddingInner":0,"paddingOuter":0},"axis":{"title":"Genome and subgenomes","labelAngle":270,"tickBand":"extent","titlePadding":0,"titleFontSize":11}},
"y":{"field":"val","type":"quantitative","scale":{"domain":[10,50],"nice":false,"zero":false},"axis":{"values":[10,20,30,40,50],"title":"Nt content (%)"}},
"color":{"field":"k","type":"nominal","scale":{"domain":["A3","G3","U3","C3"],"range":["#3a3acb","#de3b3b","#3a3acb","#de3b3b"]},"legend":null},
"shape":{"field":"k","type":"nominal","scale":{"domain":["A3","G3","U3","C3"],"range":["triangle-up","triangle-up","circle","circle"]},"legend":null},
"size":{"field":"k","type":"nominal","scale":{"domain":["A3","G3","U3","C3"],"range":[56,56,36,36]},"legend":null}}},
{"width":137,"height":61,"data":{"name":"B"},
"transform":[{"filter":"datum.v == 'raf'"},{"fold":["A3","G3","U3","C3"],"as":["k","val"]}],
"mark":{"type":"point","filled":false,"strokeWidth":1.2,"opacity":0.75},
"encoding":{"x":{"field":"sg","type":"nominal","sort":null,"scale":{"type":"band","paddingInner":0,"paddingOuter":0},"axis":{"title":"Genome and subgenomes","labelAngle":270,"tickBand":"extent","titlePadding":0,"titleFontSize":11}},
"y":{"field":"val","type":"quantitative","scale":{"domain":[10,50],"nice":false,"zero":false},"axis":{"values":[10,20,30,40,50],"title":"Nt content (%)"}},
"color":{"field":"k","type":"nominal","scale":{"domain":["A3","G3","U3","C3"],"range":["#3a3acb","#de3b3b","#3a3acb","#de3b3b"]},"legend":{"title":null,"orient":"none","legendX":140,"legendY":16,"labelOffset":3,"rowPadding":-1.5,"symbolStrokeWidth":1.2,"padding":0}},
"shape":{"field":"k","type":"nominal","scale":{"domain":["A3","G3","U3","C3"],"range":["triangle-up","triangle-up","circle","circle"]},"legend":{"title":null,"orient":"none","legendX":140,"legendY":16,"labelOffset":3,"rowPadding":-1.5,"symbolStrokeWidth":1.2,"padding":0}},
"size":{"field":"k","type":"nominal","scale":{"domain":["A3","G3","U3","C3"],"range":[56,56,36,36]},"legend":{"title":null,"orient":"none","legendX":140,"legendY":16,"labelOffset":3,"rowPadding":-1.5,"symbolStrokeWidth":1.2,"padding":0}}}}
]
}
],
"config":{
"view":{"stroke":null},
"font":"Liberation Sans",
"axis":{"domainColor":"#000","domainWidth":2,"tickColor":"#000","tickWidth":1.5,"tickSize":4,"labelColor":"#000","labelFont":"Liberation Sans","labelFontWeight":"bold","labelFontSize":11,"labelPadding":2,"labelFlush":false,"labelOverlap":false,"titleColor":"#000","titleFont":"Liberation Sans","titleFontWeight":"bold","titleFontSize":11.5,"titlePadding":2,"grid":false},
"legend":{"labelColor":"#000","labelFont":"Liberation Sans","labelFontWeight":"bold","labelFontSize":10.5,"columnPadding":3,"labelOffset":3,"rowPadding":0},
"title":{"color":"#000","font":"Liberation Sans","fontWeight":"bold"}
}
}
